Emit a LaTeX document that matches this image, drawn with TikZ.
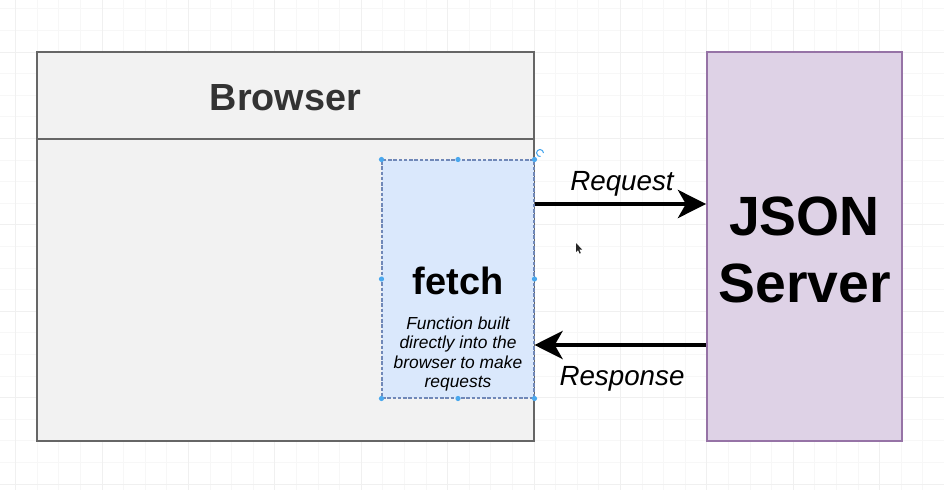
\documentclass[tikz,border=0pt]{standalone}
\usepackage{fontspec}
\setmainfont{Liberation Sans}
\usetikzlibrary{arrows.meta}
\definecolor{browserfill}{HTML}{F2F2F2}
\definecolor{browserline}{HTML}{666666}
\definecolor{browsertext}{HTML}{333333}
\definecolor{fetchfill}{HTML}{DAE8FC}
\definecolor{fetchline}{HTML}{7088B8}
\definecolor{jsonfill}{HTML}{DED2E6}
\definecolor{jsonline}{HTML}{9673A6}
\definecolor{handlecol}{HTML}{4AA8EE}
\tikzset{every path/.style={thick}}
\tikzset{panel/.style={inner sep=0pt, line width=1.1pt},
  link/.style={line width=2.4pt, -{Stealth[length=16pt,width=16pt,inset=4.5pt]}},
  gridminor/.style={line width=0.4pt, black!3},
  gridmajor/.style={line width=0.5pt, black!6}}

\begin{document}
\begin{tikzpicture}[x=0.02cm,y=-0.02cm]
\useasboundingbox (0,0) rectangle (944,490);
\fill[white] (0,0) rectangle (944,490);
% background grid
\foreach \i in {0,...,43} \draw[gridminor] (15.6+21.6*\i,0) -- (15.6+21.6*\i,490);
\foreach \j in {0,...,22} \draw[gridminor] (0,8.8+21.6*\j) -- (944,8.8+21.6*\j);
\foreach \i in {0,...,10} \draw[gridmajor] (15.6+86.4*\i,0) -- (15.6+86.4*\i,490);
\foreach \j in {0,...,5} \draw[gridmajor] (0,52+86.4*\j) -- (944,52+86.4*\j);

% browser
\node[panel, draw=browserline, fill=browserfill, minimum width=9.94cm, minimum height=7.78cm] (browser) at (285.5,246.5) {};
\draw[browserline, line width=1.1pt] ([yshift=-1.76cm]browser.north west) -- ([yshift=-1.76cm]browser.north east);
\node[text=browsertext, font=\bfseries\fontsize{21.5}{26}\selectfont] (browserlabel) at (285.5,98) {Browser};

% fetch
\node[panel, draw=fetchline, fill=fetchfill, dash pattern=on 2pt off 1pt, line width=0.6pt, minimum width=3.04cm, minimum height=4.76cm] (fetch) at (458,279) {};
\node[font=\bfseries\fontsize{21.6}{26}\selectfont] (fetchlabel) at (458,281) {fetch};
\node[font=\itshape\fontsize{9.9}{11}\selectfont, align=center] (fetchdesc) at (458,354) {Function built\\directly into the\\browser to make\\requests};
\foreach \a in {north west,north,north east,east,south east,south,south west,west}
  \fill[handlecol] (fetch.\a) circle (2.6);
\draw[handlecol, line width=0.6pt] (543.5,153) arc (0:-280:3.5);

% server
\node[panel, draw=jsonline, fill=jsonfill, minimum width=3.9cm, minimum height=7.78cm] (json) at (804.5,246.5) {};
\node[font=\bfseries\fontsize{31.5}{38.6}\selectfont, align=center] (jsonlabel) at (804.5,250) {JSON\\Server};

% request / response
\coordinate (req) at (622,204);
\coordinate (res) at (622,345);
\draw[link] (fetch.east |- req) -- (json.west |- req);
\draw[link] (json.west |- res) -- (fetch.east |- res);
\node[font=\itshape\fontsize{15.8}{19}\selectfont] (reqlabel) at (622,184) {Request};
\node[font=\itshape\fontsize{15.8}{19}\selectfont] (reslabel) at (622,379) {Response};

% cursor
\fill[black!85] (576,243) -- (576,252) -- (578,250) -- (579.6,253.6) -- (580.8,253) -- (579.2,249.5) -- (582,249.5) -- cycle;
\end{tikzpicture}
\end{document}
